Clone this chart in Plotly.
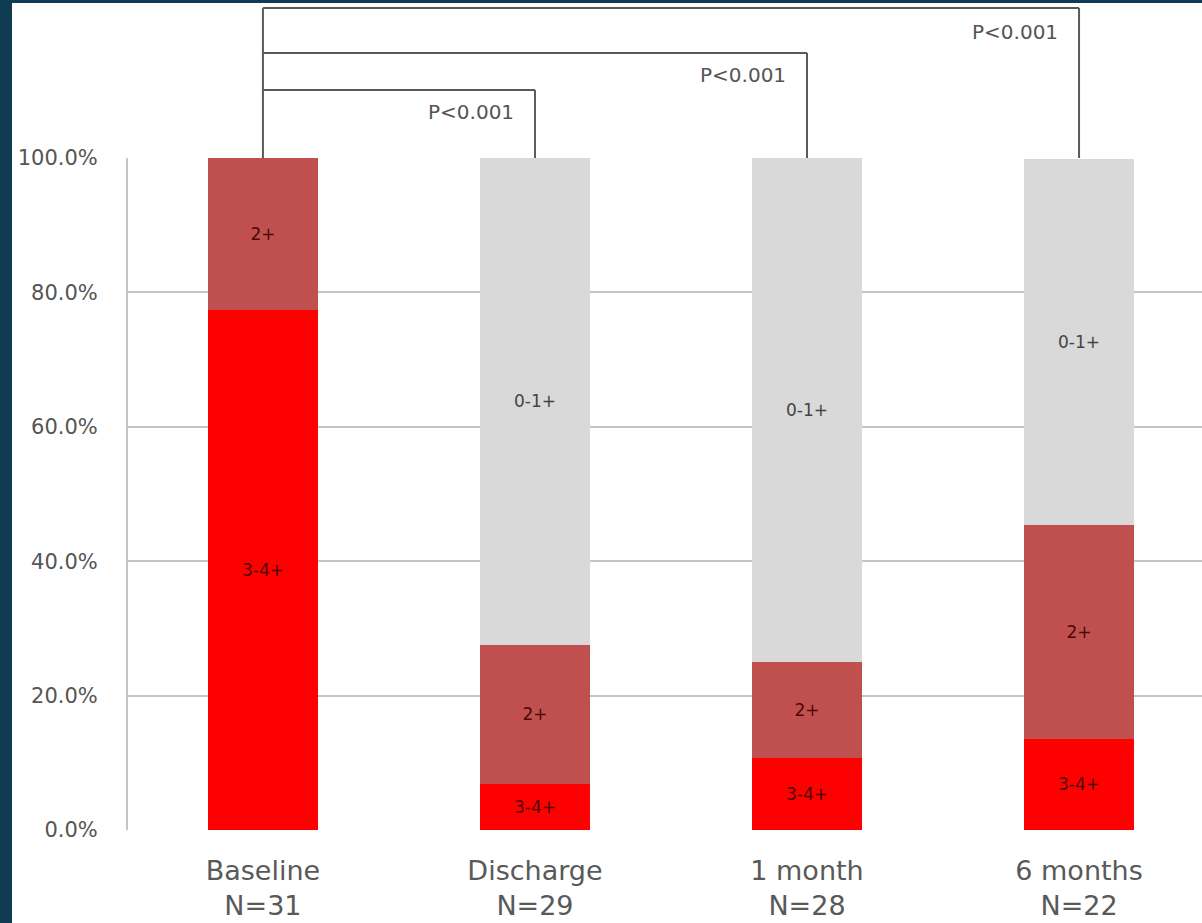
import plotly.graph_objects as go

categories = ["Baseline<br>N=31", "Discharge<br>N=29", "1 month<br>N=28", "6 months<br>N=22"]
severe_34 = [77.4, 6.9, 10.7, 13.6]     # 3-4+
moderate_2 = [22.6, 20.7, 14.3, 31.8]   # 2+
mild_01 = [0.0, 72.4, 75.0, 54.5]       # 0-1+
series_names = ["3-4+", "2+", "0-1+"]
y_ticks = [0, 20, 40, 60, 80, 100]
y_tick_labels = ["0.0%", "20.0%", "40.0%", "60.0%", "80.0%", "100.0%"]
# brackets: (start category index, end category index, label)
brackets = [(0, 1, "P<0.001"), (0, 2, "P<0.001"), (0, 3, "P<0.001")]

FONT = "DejaVu Sans"
fig = go.Figure()
colors = ["#ff0000", "#c0504d", "#d9d9d9"]
txtcol = ["#4a0808", "#4a0808", "#444444"]
for name, vals, c, tc in zip(series_names, [severe_34, moderate_2, mild_01], colors, txtcol):
    fig.add_trace(go.Bar(
        x=list(range(len(categories))), y=vals, name=name,
        marker=dict(color=c, line=dict(width=0)),
        width=0.405,
        text=[name if v > 0 else "" for v in vals],
        textposition="inside", insidetextanchor="middle", textangle=0,
        constraintext="none",
        textfont=dict(family=FONT, size=17, color=tc),
        hoverinfo="skip",
    ))

# page background: dark strip left/top, white panel
shapes = [dict(type="rect", xref="paper", yref="paper", x0=-0.108, x1=1.05, y0=-0.2, y1=1.2307,
               fillcolor="white", line=dict(width=0), layer="below")]
levels = [1.1012, 1.1562, 1.2232]
label_levels = [1.0685, 1.1235, 1.1875]
line_style = dict(color="#5a5a5a", width=2)
for (s, e, lab), lv in zip(brackets, levels):
    shapes.append(dict(type="line", xref="x", yref="paper", x0=s, x1=e, y0=lv, y1=lv, line=line_style))
    shapes.append(dict(type="line", xref="x", yref="paper", x0=e, x1=e, y0=1.0, y1=lv, line=line_style))
shapes.append(dict(type="line", xref="x", yref="paper", x0=0, x1=0, y0=1.0, y1=max(levels), line=line_style))

annotations = []
for (s, e, lab), ll in zip(brackets, label_levels):
    annotations.append(dict(x=e - 0.07, y=ll, xref="x", yref="paper", text=lab, showarrow=False,
                            xanchor="right", yanchor="middle",
                            font=dict(family=FONT, size=20, color="#555555")))

fig.update_layout(
    width=1202, height=923,
    barmode="stack",
    showlegend=False,
    paper_bgcolor="#0f3b53",
    plot_bgcolor="white",
    margin=dict(l=128, r=0, t=158, b=93),
    shapes=shapes,
    annotations=annotations,
    hovermode=False,
    xaxis=dict(range=[-0.496, 3.452], tickmode="array", tickvals=list(range(len(categories))),
               ticktext=categories, showgrid=False, zeroline=False, showline=False,
               tickfont=dict(family=FONT, size=27, color="#595959"), ticks="",
               ticklabelstandoff=22),
    yaxis=dict(range=[0, 100], tickmode="array", tickvals=y_ticks, ticktext=y_tick_labels,
               showgrid=True, gridcolor="#c4c4c4", gridwidth=2, zeroline=False,
               showline=True, linecolor="#c4c4c4", linewidth=2,
               ticks="", ticklabelstandoff=24,
               tickfont=dict(family=FONT, size=21, color="#555555")),
)

fig.write_html("out.html", config={"displayModeBar": False},
               post_script="document.body.style.margin='0';")
